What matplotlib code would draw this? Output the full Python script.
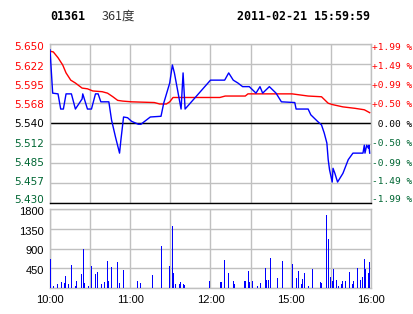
import matplotlib
matplotlib.use('Agg')
import matplotlib.pyplot as plt
import matplotlib.transforms as mtransforms

# minutes since 10:00 (trading minutes; 12:30 -> 14:30 lunch gap removed)
price_t = [0, 2, 6, 8, 10, 12, 16, 19, 24, 24.5, 27, 28, 31, 34, 36, 38, 44, 46, 49, 52, 53,
           55, 58, 61, 66, 68, 75, 83, 85, 89.5, 91.5, 93, 98, 99.5, 101, 120, 130.6, 133.6,
           137, 140.5, 144, 149, 154, 157, 159, 164, 169, 173, 183, 184, 193, 195, 200, 203,
           205, 207, 208, 209, 211, 211.6, 213, 215, 219, 223, 226.5, 234, 235, 235.5,
           236.8, 238, 238.5, 239]
price = [5.642, 5.582, 5.581, 5.560, 5.560, 5.581, 5.581, 5.560, 5.574, 5.581, 5.566, 5.560,
         5.560, 5.581, 5.581, 5.570, 5.570, 5.545, 5.521, 5.499, 5.517, 5.549, 5.548, 5.543,
         5.539, 5.539, 5.549, 5.550, 5.568, 5.596, 5.621, 5.610, 5.560, 5.610, 5.560, 5.600,
         5.600, 5.610, 5.600, 5.596, 5.591, 5.591, 5.582, 5.591, 5.582, 5.591, 5.582, 5.570,
         5.569, 5.560, 5.560, 5.552, 5.543, 5.538, 5.527, 5.513, 5.490, 5.476, 5.459, 5.478,
         5.471, 5.459, 5.471, 5.490, 5.499, 5.499, 5.510, 5.499, 5.510, 5.506, 5.510, 5.499]

avg_t = [0, 2.5, 6, 9.5, 12, 15.5, 19, 24, 28, 32, 39, 43, 47, 50.6, 54.4, 61, 78, 82, 87,
         89.5, 92, 127, 131, 146, 148, 181, 193, 203, 208, 211.6, 219, 228, 235, 239]
avg = [5.640, 5.639, 5.631, 5.621, 5.610, 5.600, 5.596, 5.589, 5.588, 5.585, 5.584, 5.582,
       5.577, 5.572, 5.571, 5.570, 5.569, 5.567, 5.567, 5.570, 5.576, 5.576, 5.578, 5.578,
       5.581, 5.581, 5.578, 5.577, 5.568, 5.566, 5.563, 5.561, 5.559, 5.555]

vol_t = [0, 2.5, 5.7, 8.5, 11, 11.8, 13.7, 16, 19, 19.8, 23.4, 25, 25.8, 28.7, 31, 34, 35.4,
         38.4, 40.6, 43, 43.8, 46, 50.3, 51.8, 54.8, 65.3, 67.5, 76.5, 83.2, 89.2, 91.5, 92.3,
         93.7, 96.7, 97.5, 99.7, 100.5, 119.1, 127.4, 128.2, 130.3, 133.3, 137.1, 137.9,
         145.3, 146.1, 148.3, 149.1, 151.3, 155, 157.3, 161, 161.8, 163.2, 164.7, 170, 173.7,
         181.2, 184.2, 185.7, 187.9, 188.7, 190.2, 193.1, 196.1, 202.1, 202.9, 206.6, 208.1,
         209.6, 211.1, 211.9, 214.1, 215.6, 217.8, 218.6, 220.8, 223.8, 226, 226.8, 229.8,
         232, 233.5, 235, 235.8, 238, 238.8]
volume = [661, 46, 91, 137, 106, 273, 91, 524, 46, 160, 319, 889, 114, 46, 501, 319, 365,
          91, 137, 615, 160, 479, 592, 114, 410, 160, 114, 296, 957, 501, 1413, 342, 91, 91,
          137, 91, 68, 160, 137, 137, 638, 342, 160, 91, 160, 160, 387, 137, 160, 46, 114,
          456, 182, 182, 684, 228, 615, 547, 228, 387, 91, 205, 342, 46, 433, 137, 114, 1663,
          1116, 251, 160, 433, 182, 46, 91, 160, 160, 365, 91, 160, 456, 182, 251, 661, 433,
          342, 592]

prev_close = 5.540
price_ticks = [5.650, 5.622, 5.595, 5.568, 5.540, 5.512, 5.485, 5.457, 5.430]
pct_labels = ['+1.99 %', '+1.49 %', '+0.99 %', '+0.50 %', '0.00 %',
              '-0.50 %', '-0.99 %', '-1.49 %', '-1.99 %']
vol_ticks = [1800, 1350, 900, 450]
time_labels = ['10:00', '', '11:00', '', '12:00', '', '15:00', '', '16:00']

RED = '#ff0000'
GREEN = '#006633'
GRID = '#c0c0c0'

fig = plt.figure(figsize=(4.14, 3.14), dpi=100)
ax = fig.add_axes([50 / 414, 111 / 314, 321 / 414, 159 / 314])
axv = fig.add_axes([50 / 414, 26 / 314, 321 / 414, 79 / 314])

for a in (ax, axv):
    a.set_xlim(0, 240)
    a.set_xticks(range(0, 241, 30))
    a.grid(True, color=GRID, linewidth=1)
    a.set_axisbelow(True)
    for s in a.spines.values():
        s.set_color(GRID)
        s.set_linewidth(1)
    a.tick_params(length=0)

# price panel
ax.set_ylim(5.430, 5.650)
ax.set_yticks(price_ticks)
ax.set_xticklabels([])
ax.set_yticklabels([])
ax.spines['bottom'].set_color('black')
ax.axhline(prev_close, color='black', linewidth=1, zorder=2)
ax.plot(avg_t, avg, color=RED, linewidth=1, zorder=3)
ax.plot(price_t, price, color='#0000ff', linewidth=1, zorder=4)

trans = mtransforms.blended_transform_factory(ax.transAxes, ax.transData)
shifts = [-3.5, -2.5, -2, -1.5, -1, 0, 0, 1.5, 3]
for p, lab, dy in zip(price_ticks, pct_labels, shifts):
    c = RED if p > prev_close else ('black' if p == prev_close else GREEN)
    tl = mtransforms.offset_copy(trans, fig=fig, x=-6, y=dy, units='dots')
    ax.text(0, p, '%.3f' % p, transform=tl, ha='right', va='center', color=c,
            fontsize=7.5, family='DejaVu Sans')
    tr = mtransforms.offset_copy(trans, fig=fig, x=1, y=dy, units='dots')
    ax.text(1, p, lab if p != prev_close else ' ' + lab, transform=tr, ha='left',
            va='center', color=c, fontsize=6.8, family='DejaVu Sans Mono')

# volume panel
axv.set_ylim(0, 1800)
axv.set_yticks([0] + vol_ticks)
axv.set_yticklabels([])
axv.bar(vol_t, volume, width=0.75, color='#0000ff', zorder=3)
vtrans = mtransforms.blended_transform_factory(axv.transAxes, axv.transData)
for v in vol_ticks:
    tl = mtransforms.offset_copy(vtrans, fig=fig, x=-6, y=-3, units='dots')
    axv.text(0, v, str(v), transform=tl, ha='right', va='center', fontsize=8,
             family='Liberation Sans')
axv.set_xticklabels(time_labels, fontsize=8, family='Liberation Sans')
axv.tick_params(axis='x', pad=5)

# header
fig.text(50 / 414, 1 - 16 / 314, '01361', fontsize=8.4, fontweight='bold',
         family='DejaVu Sans Mono', va='center', ha='left')
fig.text(102 / 414, 1 - 16 / 314, '361度', fontsize=9, family='Noto Sans CJK SC',
         va='center', ha='left', color='#333333')
fig.text(237 / 414, 1 - 16 / 314, '2011-02-21 15:59:59', fontsize=8.4, fontweight='bold',
         family='DejaVu Sans Mono', va='center', ha='left')

fig.savefig('out.png', dpi=100)
